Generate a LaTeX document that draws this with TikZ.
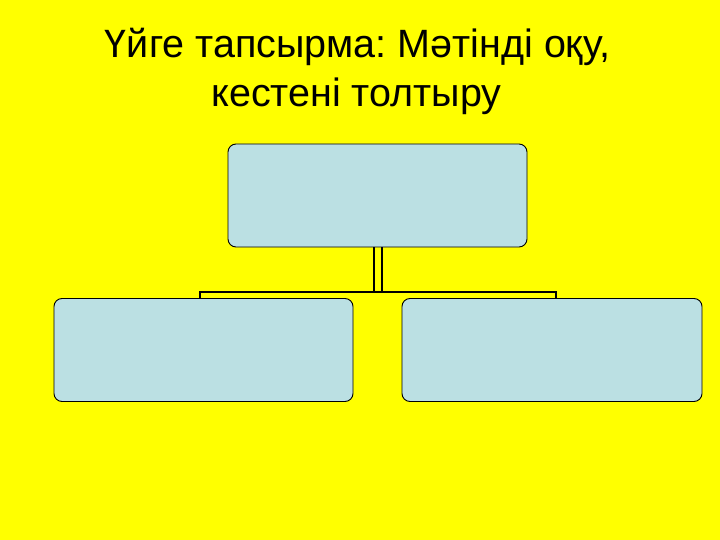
\documentclass[tikz,border=0pt]{standalone}
\usepackage{fontspec}
\setmainfont{Liberation Sans}
\frenchspacing
\definecolor{bg}{HTML}{FFFF00}
\definecolor{boxfill}{HTML}{BBE0E3}
\begin{document}
\begin{tikzpicture}[x=1pt,y=1pt,
  titletext/.style={anchor=base, inner sep=0pt, font=\fontsize{39.5}{49}\selectfont, text=black},
  card/.style={draw=black, line width=0.9pt, fill=boxfill, rounded corners=8pt, minimum width=299pt, minimum height=103pt, inner sep=0pt},
  conn/.style={draw=black, line width=2pt}]
\fill[bg] (0,0) rectangle (720,-540);
\useasboundingbox (0,0) rectangle (720,-540);
\node[titletext] (title1) at (357.5,-58) {Үйге тапсырма: Мәтінді оқу,};
\node[titletext] (title2) at (356.5,-107) {кестені толтыру};
\node[card] (top) at (377.5,-195.5) {};
\node[card] (left) at (203.5,-350) {};
\node[card, minimum width=300pt] (right) at (552,-350) {};
\coordinate (hl) at (200,-292);
\coordinate (hr) at (556,-292);
\draw[conn] (left.north -| hl) -- (hl) -- (hr) -- (right.north -| hr);
\draw[conn] ([xshift=-4pt]top.south) -- ([xshift=-4pt]top.south |- hl);
\draw[conn] ([xshift=4pt]top.south) -- ([xshift=4pt]top.south |- hl);
\end{tikzpicture}
\end{document}
